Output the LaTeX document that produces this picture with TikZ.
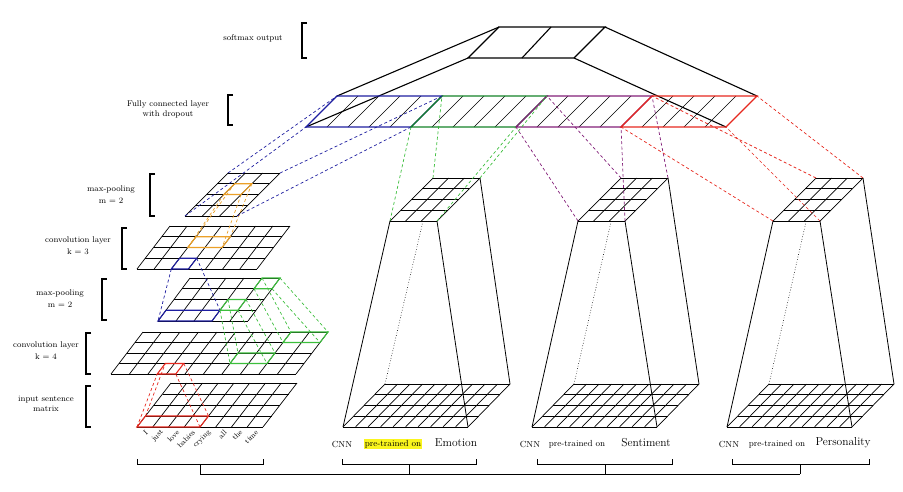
\documentclass[tikz,border=0pt]{standalone}
\usetikzlibrary{calc}
\definecolor{fcblue}{RGB}{30,30,160}
\definecolor{fcgreen}{RGB}{20,130,40}
\definecolor{fcpurple}{RGB}{130,30,120}
\definecolor{fcred}{RGB}{230,40,30}
\definecolor{lgreen}{RGB}{60,190,60}
\definecolor{orng}{RGB}{235,160,40}
\definecolor{hl}{RGB}{250,245,30}
\newcommand\setgrid[7]{\def\gx{#1}\def\gy{#2}\def\gW{#3}\def\gS{#4}\def\gH{#5}\def\gnx{#6}\def\gny{#7}}
\newcommand\cpt[3]{\coordinate (#1) at ({\gx+\gW*(#2)/\gnx+\gS*(#3)/\gny},{\gy-\gH*(#3)/\gny});}
\newcommand\drawgrid{%
  \foreach \i in {0,...,\gnx} \draw[gridline] ({\gx+\gW*\i/\gnx},\gy) -- ({\gx+\gS+\gW*\i/\gnx},{\gy-\gH});
  \foreach \j in {0,...,\gny} \draw[gridline] ({\gx+\gS*\j/\gny},{\gy-\gH*\j/\gny}) -- ({\gx+\gW+\gS*\j/\gny},{\gy-\gH*\j/\gny});}
\newcommand\cellbox[6]{\cpt{#2bl}{#3}{#5}\cpt{#2br}{#4}{#5}\cpt{#2tr}{#4}{#6}\cpt{#2tl}{#3}{#6}%
  \draw[#1] (#2bl)--(#2br)--(#2tr)--(#2tl)--cycle;}
\newcommand\lbracket[3]{\draw[brk] ({#1+5},#2)--(#1,#2)--(#1,#3)--({#1+5},#3);}
\begin{document}
\begin{tikzpicture}[x=1pt,y=-1pt,
  gridline/.style={black,line width=0.7pt},
  hbox/.style={line width=1.1pt},
  dsh/.style={dashed,line width=0.7pt,dash pattern=on 3pt off 2.5pt},
  brk/.style={black,line width=1.1pt},
  lbl/.style={font=\fontsize{8.3}{10}\selectfont,align=center,inner sep=1pt},
  sml/.style={font=\fontsize{8.8}{10}\selectfont,inner sep=1pt},
  big/.style={font=\fontsize{11.5}{13}\selectfont,inner sep=1pt},
  word/.style={font=\fontsize{7.5}{8}\selectfont,rotate=45,anchor=east,inner sep=0.3pt}]
\useasboundingbox (0,0) rectangle (903,491);
% ---------- left stack ----------
\setgrid{137}{427}{126}{34}{44}{8}{4}\drawgrid
\cellbox{hbox,fcred}{inR}{0}{4}{0}{1}
\setgrid{111}{374}{185}{32}{42}{10}{4}\drawgrid
\cellbox{hbox,fcred}{cfR}{2.5}{3.5}{0}{1}
\cellbox{hbox,lgreen}{cfG}{6}{8}{1}{2}
\cellbox{hbox,lgreen}{cfH}{8}{10}{3}{4}
\setgrid{158}{321}{90}{32}{43}{5}{4}\drawgrid
\cellbox{hbox,fcblue}{mpB}{0}{3}{0}{1}
\cellbox{hbox,lgreen}{mpG}{3}{4}{1}{2}
\cellbox{hbox,lgreen}{mpH}{4}{5}{3}{4}
\setgrid{137}{269}{120}{33}{43}{7}{4}\drawgrid
\cellbox{hbox,fcblue}{ctB}{2}{3}{0}{1}
\cellbox{hbox,orng}{ctO}{2}{4}{2}{3}
\setgrid{185}{216}{52}{43}{43}{3}{4}\drawgrid
\cpt{mtbl}{0}{0}\cpt{mtbr}{3}{0}\cpt{mttr}{3}{4}\cpt{mttl}{0}{4}
\cellbox{hbox,orng}{mtO}{1}{2}{2}{3}
\foreach \c in {bl,br,tr,tl} \draw[dsh,fcred] (inR\c) -- (cfR\c);
\draw[dsh,fcblue] (ctBbl) -- (mpBbl);
\draw[dsh,fcblue] (ctBtr) -- (mpBtr);
\foreach \c in {bl,br,tr,tl} \draw[dsh,lgreen] (mpG\c) -- (cfG\c);
\foreach \c in {bl,br,tr,tl} \draw[dsh,lgreen] (mpH\c) -- (cfH\c);
\foreach \c in {bl,br,tr,tl} \draw[dsh,orng] (mtO\c) -- (ctO\c);
\foreach \w [count=\k from 0] in {I,just,love,babies,crying,all,the,time}
  \node[word] (w\k) at ({147+15.75*\k},431) {\w};
% ---------- FC layer ----------
\foreach \k in {0,1,2,3}{
  \coordinate (f\k bl) at ({306+105*\k},127);
  \coordinate (f\k br) at ({411+105*\k},127);
  \coordinate (f\k tr) at ({442+105*\k},96);
  \coordinate (f\k tl) at ({337+105*\k},96);
}
\foreach \m in {1,...,19}{
  \pgfmathtruncatemacro\r{mod(\m,5)}
  \ifnum\r>0 \draw[line width=0.5pt] ({306+21*\m},127) -- ({337+21*\m},96);\fi
}
\coordinate (stl) at (499,27); \coordinate (str) at (605,27);
\coordinate (sbl) at (468,58); \coordinate (sbr) at (574,58);
\draw[line width=1.1pt] (sbl)--(sbr)--(str)--(stl)--cycle;
\draw[line width=1.1pt] (522,58)--(551,27);
\draw[line width=1.1pt] (stl)--(f0tl) (sbl)--(f0bl) (str)--(f3tr) (sbr)--(f3br);
\foreach \k/\col in {0/fcblue,1/fcgreen,2/fcpurple,3/fcred}
  \draw[hbox,\col] (f\k bl)--(f\k br)--(f\k tr)--(f\k tl)--cycle;
\foreach \c in {bl,br,tr,tl} \draw[dsh,fcblue] (mt\c) -- (f0\c);
% ---------- CNN blocks ----------
\foreach \tx/\bx/\k/\col in {390/343/1/lgreen,578/532/2/fcpurple,773/727/3/fcred}{
  \setgrid{\bx}{427}{125}{42}{43}{10}{4}\drawgrid
  \cpt{Bbl}{0}{0}\cpt{Bbr}{10}{0}\cpt{Btr}{10}{4}\cpt{Btl}{0}{4}
  \setgrid{\tx}{221}{47}{43}{43}{3}{4}\drawgrid
  \cpt{Tbl}{0}{0}\cpt{Tbr}{3}{0}\cpt{Ttr}{3}{4}\cpt{Ttl}{0}{4}
  \draw[line width=0.8pt] (Tbl)--(Bbl) (Tbr)--(Bbr) (Ttr)--(Btr);
  \draw[dotted,line width=0.6pt] ($(Ttl)!0.21!(Btl)$) -- (Btl);
  \foreach \c in {bl,br,tr,tl} \draw[dsh,\col] (T\c) -- (f\k\c);
}
% ---------- labels & brackets ----------
\node[lbl] (t1) at (253,38) {softmax output};
\lbracket{302}{23}{58}
\node[lbl] (t2) at (168,109) {Fully connected layer\\with dropout};
\lbracket{228}{95}{125}
\node[lbl] (t3) at (111,195) {max-pooling\\[2pt] m = 2};
\lbracket{150}{174}{216}
\node[lbl] (t4) at (78,246) {convolution layer\\[2pt] k = 3};
\lbracket{122}{228}{269}
\node[lbl] (t5) at (60,299) {max-pooling\\[2pt] m = 2};
\lbracket{102}{279}{320}
\node[lbl] (t6) at (46,351) {convolution layer\\[2pt] k = 4};
\lbracket{86}{333}{374}
\node[lbl] (t7) at (46,404) {input sentence\\matrix};
\lbracket{86}{386}{427}
\foreach \n/\cx/\ex/\txt in {e/342/456/Emotion,s/530/646/Sentiment,p/729/843/Personality}{
  \node[sml] (cnn\n) at (\cx,444) {CNN};
  \node[big] (name\n) at (\ex,443) {\txt};
}
\node[sml,fill=hl] (pte) at (393,444) {pre-trained on};
\node[sml] (pts) at (577,444) {pre-trained on};
\node[sml] (ptp) at (777,444) {pre-trained on};
\foreach \a/\b/\m in {137/263/200,342/476/409,537/672/605,732/869/800}{
  \draw[brk,line width=0.8pt] (\a,459)--(\a,464)--(\b,464)--(\b,459);
  \draw[brk,line width=0.8pt] (\m,464)--(\m,474);
}
\draw[brk,line width=0.8pt] (200,474)--(800,474);
\end{tikzpicture}
\end{document}
